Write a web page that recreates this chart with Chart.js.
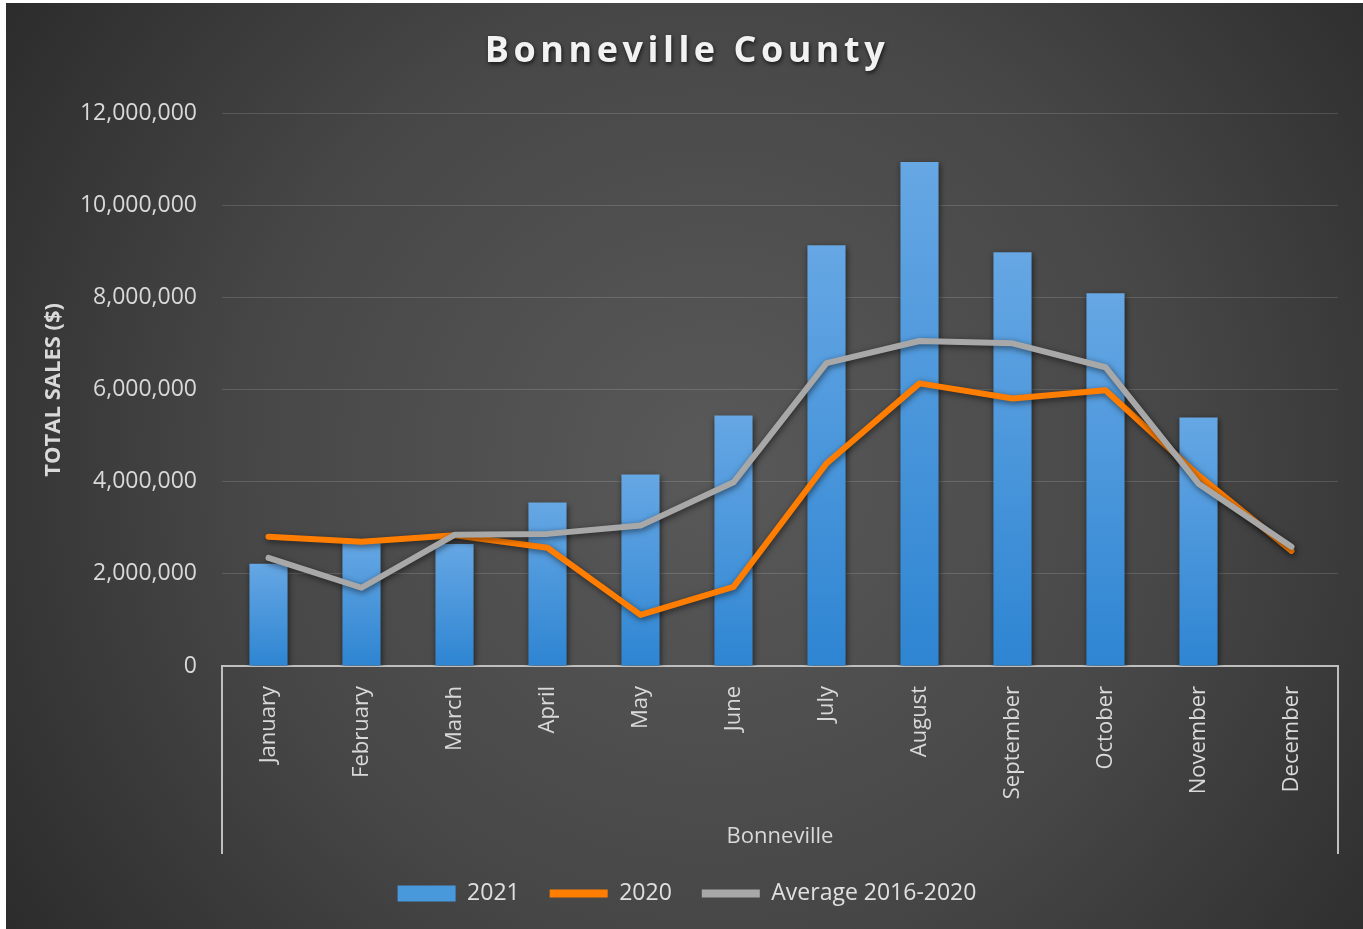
<!DOCTYPE html>
<html>
<head>
<meta charset="utf-8">
<title>Bonneville County</title>
<script src="https://cdn.jsdelivr.net/npm/chart.js@4"></script>
<style>
  html, body { margin: 0; padding: 0; background: #fff; }
  #wrap { position: absolute; left: 6px; top: 3px; width: 1357px; height: 926px; }
</style>
</head>
<body>
<div id="wrap"><canvas id="salesChart"></canvas></div>
<script>
const months = ['January', 'February', 'March', 'April', 'May', 'June', 'July',
  'August', 'September', 'October', 'November', 'December'];
// total sales per month
const sales2021 = [2220000, 2700000, 2650000, 3550000, 4160000, 5440000, 9140000,
  10950000, 8990000, 8100000, 5400000, null];
const sales2020 = [2810000, 2700000, 2840000, 2570000, 1110000, 1720000, 4400000,
  6140000, 5810000, 5990000, 4140000, 2500000];
const avg2016to2020 = [2350000, 1700000, 2850000, 2870000, 3050000, 3990000, 6580000,
  7060000, 7010000, 6490000, 3960000, 2590000];
const yTicks = [0, 2000000, 4000000, 6000000, 8000000, 10000000, 12000000];

const FONT = "'Open Sans', 'Liberation Sans', sans-serif";
const TEXT = '#d9d9d9';
const TITLE = 'Bonneville County';

// Dark radial background like the office chart style
const backgroundPlugin = {
  id: 'bg',
  beforeDraw(chart) {
    const { ctx, width, height } = chart;
    const g = ctx.createRadialGradient(width * 0.52, height * 0.5, 0, width * 0.52, height * 0.5, width * 0.62);
    g.addColorStop(0, '#595959');
    g.addColorStop(0.55, '#474747');
    g.addColorStop(1, '#2c2c2c');
    ctx.save();
    ctx.fillStyle = g;
    ctx.fillRect(0, 0, width, height);
    ctx.restore();
  }
};

// Soft shadow under bars and lines
const shadowPlugin = {
  id: 'shadow',
  beforeDatasetDraw(chart) {
    const ctx = chart.ctx;
    ctx.save();
    ctx.shadowColor = 'rgba(0,0,0,0.55)';
    ctx.shadowBlur = 6;
    ctx.shadowOffsetX = 1;
    ctx.shadowOffsetY = 2;
  },
  afterDatasetDraw(chart) {
    chart.ctx.restore();
  }
};

// Side lines of the category group box under the axis + spaced title text
const groupBoxPlugin = {
  id: 'groupBox',
  afterDraw(chart) {
    const { ctx, chartArea } = chart;
    const x = chart.scales.x;
    const bottom = x.bottom + 2;
    ctx.save();
    ctx.strokeStyle = '#bfbfbf';
    ctx.lineWidth = 2;
    ctx.beginPath();
    ctx.moveTo(chartArea.left, chartArea.bottom);
    ctx.lineTo(chartArea.left, bottom);
    ctx.moveTo(chartArea.right, chartArea.bottom);
    ctx.lineTo(chartArea.right, bottom);
    ctx.stroke();

    // title drawn here so it can have letter spacing and a shadow
    const tb = chart.titleBlock;
    ctx.font = `bold 36px ${FONT}`;
    ctx.letterSpacing = '4.5px';
    ctx.fillStyle = '#f2f2f2';
    ctx.textAlign = 'center';
    ctx.textBaseline = 'middle';
    ctx.shadowColor = 'rgba(0,0,0,0.7)';
    ctx.shadowBlur = 4;
    ctx.shadowOffsetX = 1;
    ctx.shadowOffsetY = 2;
    ctx.fillText(TITLE, (tb.left + tb.right) / 2, tb.top + 49);
    ctx.restore();
  }
};

function barGradient(context) {
  const chart = context.chart;
  const area = chart.chartArea;
  if (!area || context.raw == null) return '#3f93da';
  const yScale = chart.scales.y;
  const top = yScale.getPixelForValue(context.raw);
  const g = chart.ctx.createLinearGradient(0, top, 0, area.bottom);
  g.addColorStop(0, '#66a7e4');
  g.addColorStop(1, '#2e85d2');
  return g;
}

const ctx = document.getElementById('salesChart').getContext('2d');
const chart = new Chart(ctx, {
  type: 'bar',
  data: {
    labels: months,
    datasets: [
      {
        type: 'bar',
        label: '2021',
        data: sales2021,
        backgroundColor: barGradient,
        borderWidth: 0,
        barPercentage: 0.41,
        categoryPercentage: 1,
        pointStyle: 'rect',
        order: 2
      },
      {
        type: 'line',
        label: '2020',
        data: sales2020,
        borderColor: '#ff7d00',
        backgroundColor: '#ff7d00',
        borderWidth: 6,
        borderJoinStyle: 'round',
        borderCapStyle: 'round',
        pointRadius: 0,
        tension: 0,
        pointStyle: 'line',
        order: 1
      },
      {
        type: 'line',
        label: 'Average 2016-2020',
        data: avg2016to2020,
        borderColor: '#a8a8a8',
        backgroundColor: '#a8a8a8',
        borderWidth: 6,
        borderJoinStyle: 'round',
        borderCapStyle: 'round',
        pointRadius: 0,
        tension: 0,
        pointStyle: 'line',
        order: 0
      }
    ]
  },
  options: {
    responsive: true,
    maintainAspectRatio: false,
    animation: false,
    layout: { padding: { left: 30, right: 25, top: 0, bottom: 14 } },
    plugins: {
      title: {
        display: true,
        text: TITLE,
        color: 'rgba(0,0,0,0)',
        font: { family: FONT, size: 38, weight: 'bold' },
        padding: { top: 24, bottom: 41 }
      },
      legend: {
        position: 'bottom',
        labels: {
          color: '#e0e0e0',
          font: { family: FONT, size: 23 },
          usePointStyle: true,
          pointStyleWidth: 58,
          boxHeight: 16,
          padding: 30,
          sort: (a, b) => a.datasetIndex - b.datasetIndex,
          generateLabels(chart) {
            const items = Chart.defaults.plugins.legend.labels.generateLabels(chart);
            items.forEach(item => {
              if (item.datasetIndex === 0) {
                item.fillStyle = '#4898dc';
                item.lineWidth = 0;
              } else {
                item.lineWidth = 8;
              }
            });
            return items;
          }
        }
      },
      tooltip: { enabled: false }
    },
    scales: {
      x: {
        grid: { display: false },
        border: { display: true, color: '#bfbfbf', width: 2 },
        ticks: {
          color: TEXT,
          font: { family: FONT, size: 22 },
          minRotation: 90,
          maxRotation: 90,
          autoSkip: false,
          padding: 12
        },
        title: {
          display: true,
          text: 'Bonneville',
          color: TEXT,
          font: { family: FONT, size: 22 },
          padding: { top: 0, bottom: 2 }
        },
        afterFit(scale) { scale.height = 186; }
      },
      y: {
        min: 0,
        max: 12000000,
        grid: { color: 'rgba(255,255,255,0.14)', lineWidth: 1, drawTicks: false },
        border: { display: false },
        afterBuildTicks(scale) { scale.ticks = yTicks.map(v => ({ value: v })); },
        ticks: {
          color: TEXT,
          font: { family: FONT, size: 23 },
          padding: 25,
          callback: (v) => v.toLocaleString('en-US')
        },
        title: {
          display: true,
          text: 'TOTAL SALES ($)',
          color: TEXT,
          font: { family: FONT, size: 22, weight: 'bold' },
          padding: { top: 5, bottom: 0 }
        },
        afterFit(scale) { scale.width = 186; }
      }
    }
  },
  plugins: [backgroundPlugin, shadowPlugin, groupBoxPlugin]
});
</script>
</body>
</html>
